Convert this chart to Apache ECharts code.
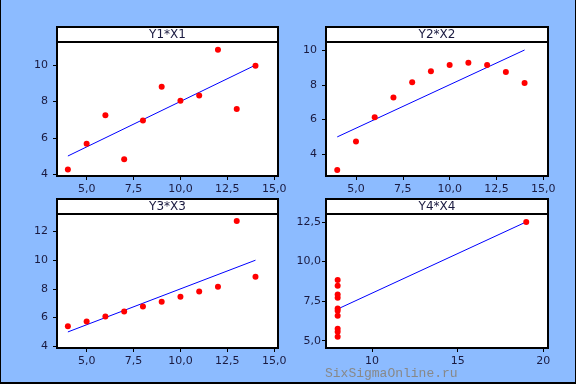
<!DOCTYPE html>
<html><head><meta charset="utf-8">
<script src="https://cdn.jsdelivr.net/npm/echarts@6/dist/echarts.min.js"></script>
<style>
html,body{margin:0;padding:0;background:#8CBBFF;}
#wrap{position:relative;width:576px;height:384px;}
#c{position:absolute;left:0;top:0;width:576px;height:384px;}
#frame{position:absolute;left:0;top:0;width:576px;height:384px;box-sizing:border-box;border-left:1px solid #000;border-right:1px solid #000;border-bottom:2px solid #000;pointer-events:none;}
</style></head>
<body><div id="wrap"><div id="c"></div><div id="frame"></div></div>
<script>
const titles = ['Y1*X1','Y2*X2','Y3*X3','Y4*X4'];
const x1 = [10,8,13,9,11,14,6,4,12,7,5];
const y1 = [8.04,6.95,7.58,8.81,8.33,9.96,7.24,4.26,10.84,4.82,5.68];
const x2 = [10,8,13,9,11,14,6,4,12,7,5];
const y2 = [9.14,8.14,8.74,8.77,9.26,8.10,6.13,3.10,9.13,7.26,4.74];
const x3 = [10,8,13,9,11,14,6,4,12,7,5];
const y3 = [7.46,6.77,12.74,7.11,7.81,8.84,6.08,5.39,8.15,6.42,5.73];
const x4 = [8,8,8,8,8,8,8,19,8,8,8];
const y4 = [6.58,5.76,7.71,8.84,8.47,7.04,5.25,12.50,5.56,7.91,6.89];
const fitX123 = [4,14];
const fitY123 = [5,10];
const fitX4 = [8,19];
const fitY4 = [7,12.5];
const xTicks123 = [5,7.5,10,12.5,15];
const xTicks4 = [10,15,20];
const yTicks1 = [4,6,8,10];
const yTicks2 = [4,6,8,10];
const yTicks3 = [4,6,8,10,12];
const yTicks4 = [5,7.5,10,12.5];

const xs=[x1,x2,x3,x4], ys=[y1,y2,y3,y4];
const fitsX=[fitX123,fitX123,fitX123,fitX4], fitsY=[fitY123,fitY123,fitY123,fitY4];
const xTicks=[xTicks123,xTicks123,xTicks123,xTicks4];
const yTicks=[yTicks1,yTicks2,yTicks3,yTicks4];
const xDec=[1,1,1,0], yDec=[0,0,0,1];

const panels=[
 {l:57,t:42,w:221,h:134,xmin:3.42,xmax:15.2,ymin:3.9,ymax:11.27,ym:9},
 {l:326,t:42,w:222,h:134,xmin:3.4,xmax:15.25,ymin:2.75,ymax:10.46,ym:9},
 {l:57,t:214,w:221,h:134,xmin:3.42,xmax:15.2,ymin:3.88,ymax:13.22,ym:9},
 {l:326,t:214,w:222,h:134,xmin:7.32,xmax:20.27,ymin:4.54,ymax:13.0,ym:5}
];
const font='DejaVu Sans';
const fmt=(d)=>(v)=>Number(v).toFixed(d).replace('.',',');
const grid=[],xAxis=[],yAxis=[],series=[],graphic=[];
panels.forEach((p,i)=>{
  grid.push({left:p.l,top:p.t,width:p.w,height:p.h,show:true,backgroundColor:'#fff',borderColor:'#000',borderWidth:2,containLabel:false});
  xAxis.push({type:'value',gridIndex:i,min:p.xmin,max:p.xmax,
    axisLine:{show:true,onZero:false,lineStyle:{color:'#000',width:2}},
    axisTick:{show:true,length:4,customValues:xTicks[i],lineStyle:{color:'#000',width:1}},
    axisLabel:{customValues:xTicks[i],formatter:fmt(xDec[i]),color:'#1a1a40',fontFamily:font,fontSize:11,margin:8},
    splitLine:{show:false}});
  yAxis.push({type:'value',gridIndex:i,min:p.ymin,max:p.ymax,
    axisLine:{show:true,onZero:false,lineStyle:{color:'#000',width:2}},
    axisTick:{show:true,length:4,customValues:yTicks[i],lineStyle:{color:'#000',width:1}},
    axisLabel:{customValues:yTicks[i],formatter:fmt(yDec[i]),color:'#1a1a40',fontFamily:font,fontSize:11,margin:p.ym},
    splitLine:{show:false}});
  series.push({type:'line',xAxisIndex:i,yAxisIndex:i,data:fitsX[i].map((x,k)=>[x,fitsY[i][k]]),
    symbol:'none',lineStyle:{color:'#0000ff',width:1},silent:true,z:2});
  series.push({type:'scatter',xAxisIndex:i,yAxisIndex:i,data:xs[i].map((x,k)=>[x,ys[i][k]]),
    symbolSize:6,itemStyle:{color:'#ff0000',opacity:1},z:3});
  graphic.push({type:'rect',shape:{x:p.l,y:p.t-15,width:p.w,height:15},style:{fill:'#fff',stroke:'#000',lineWidth:2},z:10});
  graphic.push({type:'text',x:p.l+p.w/2,y:p.t-7.5,style:{text:titles[i],fill:'#1a1a40',font:'12px '+font,textAlign:'center',textVerticalAlign:'middle'},z:11});
});
graphic.push({type:'text',x:325,y:374,style:{text:'SixSigmaOnline.ru',fill:'#888',font:'13px "Liberation Mono"',textAlign:'left',textVerticalAlign:'middle'},z:11});
const chart=echarts.init(document.getElementById('c'),null,{renderer:'canvas'});
chart.setOption({backgroundColor:'#8CBBFF',animation:false,grid,xAxis,yAxis,series,graphic});
</script></body></html>
